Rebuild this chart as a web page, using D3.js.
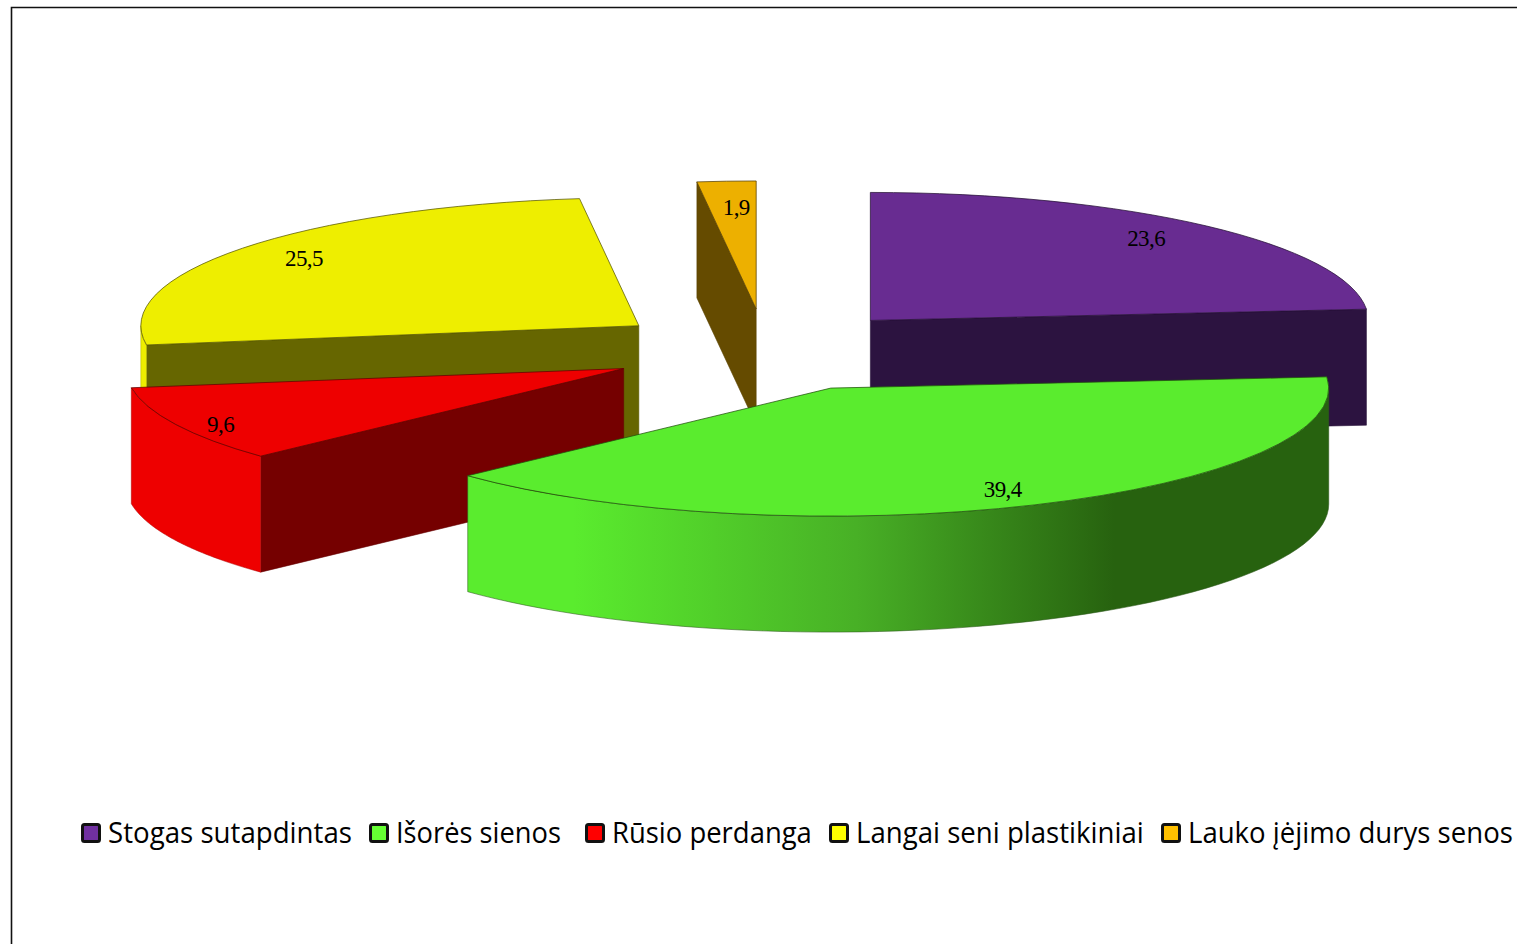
<!DOCTYPE html>
<html><head><meta charset="utf-8">
<script src="https://cdn.jsdelivr.net/npm/d3@7/dist/d3.min.js"></script>
<style>html,body{margin:0;padding:0;background:#fff;overflow:hidden}svg{display:block}</style>
</head><body><svg id="c" width="1517" height="944"></svg>
<script>
const categories = ["Stogas sutapdintas","Išorės sienos","Rūsio perdanga","Langai seni plastikiniai","Lauko įėjimo durys senos"];
const values = [23.6,39.4,9.6,25.5,1.9];
const valueLabels = ["23,6","39,4","9,6","25,5","1,9"];
const topColors = ["#682c91","#5aec2e","#ee0000","#eeee00","#edb000"];
const sideColors = ["#2c1340","#27620f","#750000","#666600","#654b00"];
const legendColors = ["#7030a0","#66ff33","#ff0000","#ffff00","#ffc000"];

// layout
const W=1517,H=944,cx=765,cy=350,rx=498,ry=128,depth=116,explode=156/498;
const labelFrac=[[.82,.87],[.845,.865],[.90,1.0],[.845,.87],[.67,.80]];
const sliceNudge=[[0,0],[2,1.5],[-1,1],[-2,0],[0.5,-1]];
const legendBoxes=[[108,352],[396,561],[612,812],[856,1144],[1188,1513]];
const drawOrder=[0,4,3,2,1];

const sx=d3.scaleLinear().domain([-1,1]).range([cx-rx,cx+rx]);
const sy=d3.scaleLinear().domain([-1,1]).range([cy-ry,cy+ry]);
const svg=d3.select("#c");
const defs=svg.append("defs");
const g=defs.append("linearGradient").attr("id","gw").attr("gradientUnits","userSpaceOnUse")
  .attr("x1",470).attr("x2",1329).attr("y1",0).attr("y2",0);
[[0,"#5aec2e"],[.12,"#5aec2e"],[.45,"#48b026"],[.75,"#27620f"],[1,"#27620f"]].forEach(s=>g.append("stop").attr("offset",s[0]).attr("stop-color",s[1]));

// frame
svg.append("path").attr("d",`M11.5,${H}V7.5H${W}`).attr("fill","none").attr("stroke","#111").attr("stroke-width",1.6);

const arcs=d3.pie().sort(null).startAngle(0).endAngle(2*Math.PI)(values);
const line=d3.line();
const topArc=d3.arc().innerRadius(0).outerRadius(rx);
const TAU=2*Math.PI;
const apex=(a,i)=>{
  const mid=(a.startAngle+a.endAngle)/2;
  return [sx(explode*Math.sin(mid))+sliceNudge[i][0], sy(-explode*Math.cos(mid))+sliceNudge[i][1], mid];
};

drawOrder.forEach(i=>{
  const a=arcs[i], [ax,ay]=apex(a,i);
  const rim=(t,dy=0)=>[ax+rx*Math.sin(t), ay-ry*Math.cos(t)+dy];
  const slice=svg.append("g").attr("class","slice");
  const side=sideColors[i];
  const wallStroke=d3.color(side).darker(.4);
  // cut face
  const cut=(t)=>slice.append("path")
    .attr("d",line([[ax,ay],rim(t),rim(t,depth),[ax,ay+depth]])+"Z")
    .attr("fill",side).attr("stroke",wallStroke).attr("stroke-width",.8).attr("stroke-opacity",.7);
  if(a.startAngle>Math.PI && a.startAngle<TAU) cut(a.startAngle);
  if(a.endAngle>0 && a.endAngle<Math.PI) cut(a.endAngle);
  // outer wall, front half of the rim only
  const t0=Math.max(a.startAngle,Math.PI/2), t1=Math.min(a.endAngle,1.5*Math.PI);
  if(t1>t0){
    const ts=d3.range(0,61).map(k=>t0+(t1-t0)*k/60);
    const pts=ts.map(t=>rim(t)).concat(ts.slice().reverse().map(t=>rim(t,depth)));
    slice.append("path").attr("d",line(pts)+"Z")
      .attr("fill",i===1?"url(#gw)":topColors[i])
      .attr("stroke",i===1?"#2f5a1c":d3.color(topColors[i]).darker(.8)).attr("stroke-width",.8).attr("stroke-opacity",.7);
  }
  // top
  slice.append("path").attr("d",topArc(a))
    .attr("transform",`translate(${ax},${ay}) scale(1,${ry/rx})`)
    .attr("fill",topColors[i]).attr("stroke",d3.color(side).darker(.5)).attr("stroke-width",1).attr("stroke-opacity",.75)
    .style("vector-effect","non-scaling-stroke");
});
// labels on top of everything
arcs.forEach((a,i)=>{
  const [ax,ay,mid]=apex(a,i);
  svg.append("text").attr("x",ax+rx*labelFrac[i][0]*Math.sin(mid)).attr("y",ay-ry*labelFrac[i][1]*Math.cos(mid)+8)
    .attr("text-anchor","middle").attr("font-family","'Liberation Serif',serif").attr("font-size",23)
    .attr("letter-spacing",-.6).attr("fill","#000").text(valueLabels[i]);
});
// legend
const lg=svg.append("g");
categories.forEach((c,i)=>{
  const [x0,x1]=legendBoxes[i];
  lg.append("rect").attr("x",x0-25.5).attr("y",824.5).attr("width",17).attr("height",17).attr("rx",2)
    .attr("fill",legendColors[i]).attr("stroke","#111").attr("stroke-width",3);
  const t=lg.append("text").attr("font-family","'Open Sans',sans-serif").attr("font-size",28.5)
    .attr("fill","#000").text(c);
  const k=(x1-x0)/t.node().getComputedTextLength();
  t.attr("transform",`translate(${x0},843) scale(${k},1)`);
});
</script></body></html>
